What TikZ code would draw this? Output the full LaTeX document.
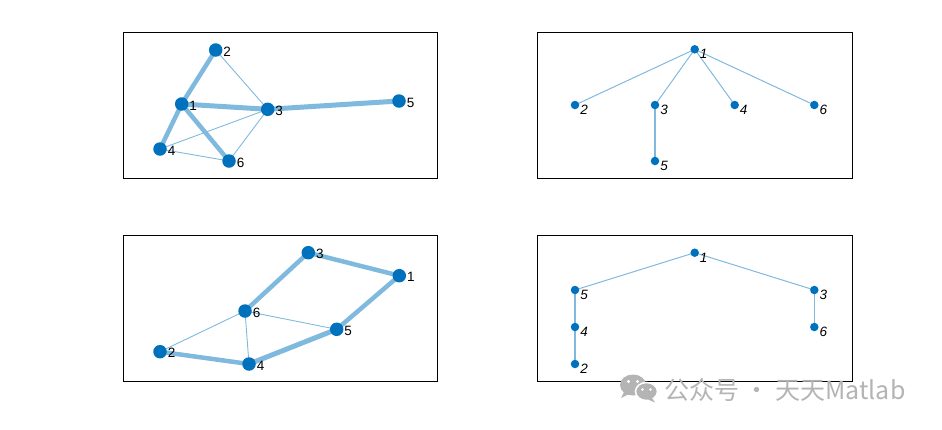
\documentclass[tikz,border=0pt]{standalone}
\usepackage{fontspec}
\setmainfont{Liberation Sans}
\newfontfamily\cjk{Noto Sans CJK SC}
\definecolor{nodeblue}{HTML}{0072BD}
\definecolor{edgeblue}{HTML}{80B9DE}
\definecolor{wmgray}{HTML}{B4B4B4}
\pgfdeclarelayer{bg}
\pgfsetlayers{bg,main}
\tikzset{
  bignode/.style={circle, fill=nodeblue, minimum size=13.5pt, inner sep=0pt, outer sep=0pt},
  smallnode/.style={circle, fill=nodeblue, minimum size=8.5pt, inner sep=0pt, outer sep=0pt},
  blab/.style={font=\fontsize{13.5}{13.5}\selectfont, inner sep=0pt, yshift=-1.5pt},
  slab/.style={font=\fontsize{13.5}{13.5}\selectfont\itshape, inner sep=0pt, yshift=-5pt},
  fatedge/.style={draw=edgeblue, line width=4.5pt},
  slimedge/.style={draw=edgeblue, line width=0.9pt},
  treeedge/.style={draw=edgeblue, line width=1pt},
  panel/.style={draw=black, line width=0.8pt},
  wmtext/.style={font=\cjk\fontsize{25}{25}\selectfont, text=wmgray, inner sep=0pt, anchor=west}
}
\begin{document}
\begin{tikzpicture}[x=1pt,y=-1pt,label distance=0.8pt]
\useasboundingbox (0,0) rectangle (942,429);
% panels
\draw[panel] (123,32) rectangle (437,178);
\draw[panel] (537,32) rectangle (852,178);
\draw[panel] (123,235.5) rectangle (437,381);
\draw[panel] (537,235.5) rectangle (852,381);

% ---------- top-left ----------
\node[bignode, label={[blab]right:1}] (a1) at (181.7,104) {};
\node[bignode, label={[blab]right:2}] (a2) at (215.7,50) {};
\node[bignode, label={[blab]right:3}] (a3) at (267.7,109.3) {};
\node[bignode, label={[blab]right:4}] (a4) at (160,149) {};
\node[bignode, label={[blab]right:5}] (a5) at (399,101) {};
\node[bignode, label={[blab]right:6}] (a6) at (229,161) {};
\begin{pgfonlayer}{bg}
\draw[fatedge] (a1.center) -- (a2.center);
\draw[fatedge, line width=5pt] (a1.center) -- (a3.center);
\draw[fatedge] (a1.center) -- (a4.center);
\draw[fatedge] (a1.center) -- (a6.center);
\draw[fatedge, line width=5pt] (a3.center) -- (a5.center);
\draw[slimedge] (a2.center) -- (a3.center);
\draw[slimedge] (a3.center) -- (a4.center);
\draw[slimedge] (a3.center) -- (a6.center);
\draw[slimedge] (a4.center) -- (a6.center);
\end{pgfonlayer}

% ---------- top-right ----------
\node[smallnode, label={[slab]right:1}] (b1) at (694.7,49.3) {};
\node[smallnode, label={[slab]right:2}] (b2) at (575,105) {};
\node[smallnode, label={[slab]right:3}] (b3) at (655,105) {};
\node[smallnode, label={[slab]right:4}] (b4) at (734.7,105) {};
\node[smallnode, label={[slab]right:5}] (b5) at (655,161) {};
\node[smallnode, label={[slab]right:6}] (b6) at (814.3,105) {};
\begin{pgfonlayer}{bg}
\draw[treeedge] (b1.center) -- (b2.center);
\draw[treeedge] (b1.center) -- (b3.center);
\draw[treeedge] (b1.center) -- (b4.center);
\draw[treeedge] (b1.center) -- (b6.center);
\draw[treeedge, line width=1.6pt] (b3.center) -- (b5.center);
\end{pgfonlayer}

% ---------- bottom-left ----------
\node[bignode, label={[blab]right:1}] (c1) at (399.3,275.7) {};
\node[bignode, label={[blab]right:2}] (c2) at (160,351.7) {};
\node[bignode, label={[blab]right:3}] (c3) at (308.3,252.7) {};
\node[bignode, label={[blab]right:4}] (c4) at (249,364) {};
\node[bignode, label={[blab]right:5}] (c5) at (336.7,329.3) {};
\node[bignode, label={[blab]right:6}] (c6) at (245,311) {};
\begin{pgfonlayer}{bg}
\draw[fatedge] (c3.center) -- (c1.center);
\draw[fatedge] (c1.center) -- (c5.center);
\draw[fatedge, line width=5pt] (c5.center) -- (c4.center);
\draw[fatedge] (c4.center) -- (c2.center);
\draw[fatedge] (c6.center) -- (c3.center);
\draw[slimedge] (c6.center) -- (c2.center);
\draw[slimedge] (c6.center) -- (c4.center);
\draw[slimedge] (c6.center) -- (c5.center);
\end{pgfonlayer}

% ---------- bottom-right ----------
\node[smallnode, label={[slab]right:1}] (d1) at (694.7,252.7) {};
\node[smallnode, label={[slab]right:2}] (d2) at (575,364) {};
\node[smallnode, label={[slab]right:3}] (d3) at (814.3,290) {};
\node[smallnode, label={[slab]right:4}] (d4) at (575,327) {};
\node[smallnode, label={[slab]right:5}] (d5) at (575,290) {};
\node[smallnode, label={[slab]right:6}] (d6) at (814.3,327) {};
\begin{pgfonlayer}{bg}
\draw[treeedge] (d1.center) -- (d5.center);
\draw[treeedge] (d1.center) -- (d3.center);
\draw[treeedge, line width=1.3pt] (d5.center) -- (d4.center);
\draw[treeedge, line width=1.3pt] (d4.center) -- (d2.center);
\draw[treeedge, line width=1.3pt] (d3.center) -- (d6.center);
\end{pgfonlayer}

% ---------- watermark ----------
\fill[wmgray] (633,385) ellipse (13 and 10.5);
\fill[wmgray] (624,392) -- (621,398) -- (629,394) -- cycle;
\fill[wmgray, draw=white, line width=1.5pt] (646.5,391.5) ellipse (11 and 9);
\fill[wmgray] (652,398) -- (655,402.5) -- (648,399.5) -- cycle;
\fill[white] (628.5,381.5) circle (1.7) (637.5,381.5) circle (1.7);
\fill[white] (642.5,389.5) circle (1.4) (650.5,389.5) circle (1.4);
\node[wmtext] (wm) at (664,390) {公众号 · 天天Matlab};
\end{tikzpicture}
\end{document}
